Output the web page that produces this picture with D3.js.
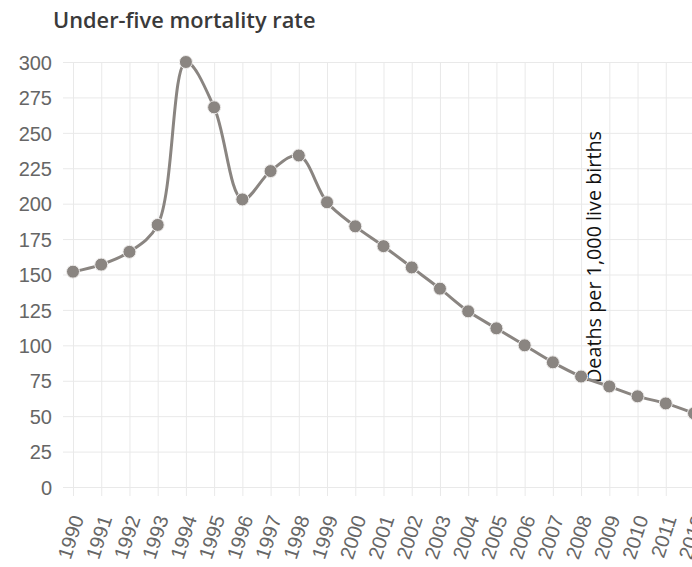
<!DOCTYPE html>
<html>
<head>
<meta charset="utf-8">
<script src="https://cdn.jsdelivr.net/npm/d3@7"></script>
<style>
  body { margin: 0; background: #fff; }
  svg { display: block; }
</style>
</head>
<body>
<script>
let years = ['1990', '1991', '1992', '1993', '1994', '1995', '1996', '1997', '1998', '1999', '2000',
  '2001', '2002', '2003', '2004', '2005', '2006', '2007', '2008', '2009', '2010', '2011', '2012']
let rates = [152, 157, 166, 185, 300, 268, 203, 223, 234, 201, 184,
  170, 155, 140, 124, 112, 100, 88, 78, 71, 64, 59, 52]
let yTicks = [0, 25, 50, 75, 100, 125, 150, 175, 200, 225, 250, 275, 300]

let width = 692, height = 567
let plotLeft = 73, plotRight = 694, plotTop = 62, plotBottom = 487
let lineColor = '#8a8581'

let svg = d3.select('body').append('svg')
  .attr('width', width)
  .attr('height', height)

let x = d3.scalePoint().domain(years).range([plotLeft, plotRight])
let y = d3.scaleLinear().domain([0, 300]).range([plotBottom, plotTop])

// title
svg.append('text')
  .attr('x', 53).attr('y', 28)
  .attr('font-family', 'Open Sans')
  .attr('font-weight', 600)
  .attr('font-size', 21.8)
  .attr('fill', '#3a3a3a')
  .text('Under-five mortality rate')

// horizontal grid + y labels
let yAxis = svg.append('g')
  .attr('transform', `translate(${plotLeft},0)`)
  .call(d3.axisLeft(y).tickValues(yTicks).tickSize(0))
yAxis.select('.domain').remove()
yAxis.selectAll('.tick line')
  .attr('x1', -10).attr('x2', plotRight - plotLeft + 10)
  .attr('stroke', '#e9e9e9')
yAxis.selectAll('.tick text')
  .attr('font-family', 'Liberation Sans, Arial')
  .attr('font-size', 20)
  .attr('fill', '#666')
  .attr('x', -21)
  .attr('dy', '0.36em')

// vertical grid + x labels
let xAxis = svg.append('g')
  .attr('transform', `translate(0,${plotBottom})`)
  .call(d3.axisBottom(x).tickSize(0))
xAxis.select('.domain').remove()
xAxis.selectAll('.tick line')
  .attr('y1', plotTop - plotBottom).attr('y2', 9)
  .attr('stroke', '#e9e9e9')
xAxis.selectAll('.tick text')
  .attr('font-family', 'Liberation Sans, Arial')
  .attr('font-size', 20)
  .attr('fill', '#666')
  .attr('text-anchor', 'end')
  .attr('transform', 'translate(4,29) rotate(-72)')
  .attr('dy', '0.35em')
  .attr('y', 0)

// y axis title
svg.append('text')
  .attr('transform', 'translate(601,257) rotate(-90)')
  .attr('text-anchor', 'middle')
  .attr('font-family', 'Open Sans')
  .attr('font-size', 19.8)
  .attr('fill', '#111')
  .text('Deaths per 1,000 live births')

svg.append('clipPath').attr('id', 'plot')
  .append('rect').attr('x', 0).attr('y', plotTop).attr('width', width).attr('height', plotBottom - plotTop + 20)

let line = d3.line()
  .x((d, i) => x(years[i]))
  .y(d => y(d))
  .curve(d3.curveCatmullRom.alpha(0.5))

svg.append('path')
  .attr('d', line(rates))
  .attr('clip-path', 'url(#plot)')
  .attr('fill', 'none')
  .attr('stroke', lineColor)
  .attr('stroke-width', 3)

svg.selectAll('circle.pt')
  .data(rates)
  .join('circle')
  .attr('class', 'pt')
  .attr('cx', (d, i) => x(years[i]))
  .attr('cy', d => y(d))
  .attr('r', 6.5)
  .attr('fill', lineColor)
  .attr('stroke', '#efedec')
  .attr('stroke-width', 1)
</script>
</body>
</html>
